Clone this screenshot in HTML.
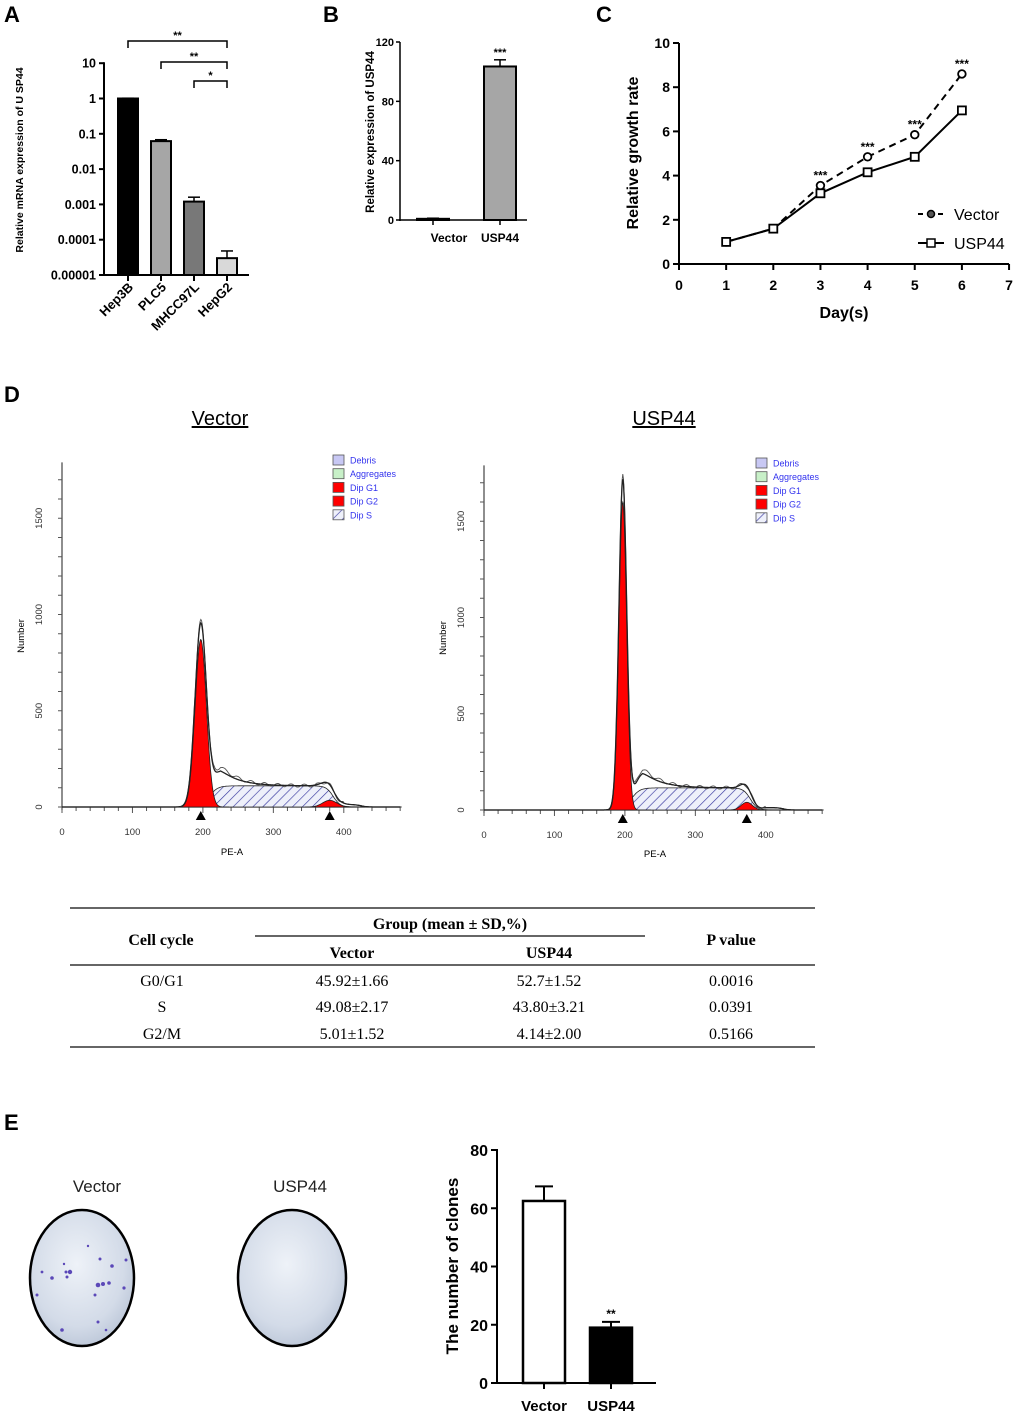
<!DOCTYPE html>
<html><head><meta charset="utf-8">
<style>
html,body{margin:0;padding:0;background:#fff;}
svg{display:block;font-family:"Liberation Sans",sans-serif;}
.ser{font-family:"Liberation Serif",serif;}
</style></head>
<body>
<svg id="fig" width="1020" height="1418" viewBox="0 0 1020 1418" xmlns="http://www.w3.org/2000/svg">
<defs>
<pattern id="hatch" width="7" height="7" patternUnits="userSpaceOnUse" patternTransform="rotate(45)">
<rect width="7" height="7" fill="#eef0fa"/><line x1="0" y1="0" x2="0" y2="7" stroke="#3a3aa0" stroke-width="1.3"/>
</pattern>
<radialGradient id="plateGrad" cx="45%" cy="40%" r="65%">
<stop offset="0" stop-color="#eef2f8"/><stop offset="0.7" stop-color="#d3dbe8"/><stop offset="1" stop-color="#b9c4d6"/>
</radialGradient>
</defs>
<g font-weight="bold" font-size="22" fill="#000">
<text x="4" y="22">A</text>
<text x="323" y="22">B</text>
<text x="596" y="22">C</text>
<text x="4" y="402">D</text>
<text x="4" y="1130">E</text>
</g>
<text transform="translate(23,160) rotate(-90)" text-anchor="middle" font-size="10.5" font-weight="bold">Relative mRNA expression  of U SP44</text>
<text transform="translate(374,132) rotate(-90)" text-anchor="middle" font-size="11.5" font-weight="bold">Relative expression of USP44</text>
<text transform="translate(638,153) rotate(-90)" text-anchor="middle" font-size="16" font-weight="bold">Relative growth rate</text>
<text x="844" y="318" text-anchor="middle" font-size="16" font-weight="bold">Day(s)</text>
<text x="220" y="425" text-anchor="middle" font-size="20" text-decoration="underline">Vector</text>
<text x="664" y="425" text-anchor="middle" font-size="20" text-decoration="underline">USP44</text>
<text transform="translate(24,636) rotate(-90)" text-anchor="middle" font-size="9.5">Number</text>
<text x="232" y="855" text-anchor="middle" font-size="9.5">PE-A</text>
<text transform="translate(446,638) rotate(-90)" text-anchor="middle" font-size="9.5">Number</text>
<text x="655" y="857" text-anchor="middle" font-size="9.5">PE-A</text>
<g class="ser" font-size="16">
<line x1="70" y1="908" x2="815" y2="908" stroke="#333" stroke-width="1.5"/>
<line x1="255" y1="936" x2="645" y2="936" stroke="#333" stroke-width="1.5"/>
<line x1="70" y1="965" x2="815" y2="965" stroke="#333" stroke-width="1.5"/>
<line x1="70" y1="1047" x2="815" y2="1047" stroke="#333" stroke-width="1.5"/>
<g font-weight="bold" text-anchor="middle">
<text x="161" y="945">Cell cycle</text>
<text x="450" y="929">Group (mean ± SD,%)</text>
<text x="352" y="958">Vector</text>
<text x="549" y="958">USP44</text>
<text x="731" y="945">P value</text>
</g>
<g text-anchor="middle">
<text x="162" y="986">G0/G1</text><text x="352" y="986">45.92±1.66</text><text x="549" y="986">52.7±1.52</text><text x="731" y="986">0.0016</text>
<text x="162" y="1012">S</text><text x="352" y="1012">49.08±2.17</text><text x="549" y="1012">43.80±3.21</text><text x="731" y="1012">0.0391</text>
<text x="162" y="1039">G2/M</text><text x="352" y="1039">5.01±1.52</text><text x="549" y="1039">4.14±2.00</text><text x="731" y="1039">0.5166</text>
</g>
</g>
<text x="97" y="1192" text-anchor="middle" font-size="17" fill="#222">Vector</text>
<text x="300" y="1192" text-anchor="middle" font-size="17" fill="#222">USP44</text>
<ellipse cx="82" cy="1278" rx="52" ry="68" fill="url(#plateGrad)" stroke="#000" stroke-width="2.5"/>
<ellipse cx="292" cy="1278" rx="54" ry="68" fill="url(#plateGrad)" stroke="#000" stroke-width="2.5"/>
<g id="colonies" fill="#5b48b8"></g>
<text transform="translate(458,1266) rotate(-90)" text-anchor="middle" font-size="17" font-weight="bold">The number of clones</text>
</svg>
<script>
const NS='http://www.w3.org/2000/svg';
const svg=document.getElementById('fig');
function mk(tag,attrs,parent){const e=document.createElementNS(NS,tag);for(const k in attrs)e.setAttribute(k,attrs[k]);(parent||svg).appendChild(e);return e;}

/* ---------- Panel A data ---------- */
const aCats=['Hep3B','PLC5','MHCC97L','HepG2'];
const aVals=[1,0.062,0.0012,0.00003];
const aErrTop=[1.02,0.068,0.0016,0.000048];
const aTicks=[10,1,0.1,0.01,0.001,0.0001,0.00001];
const aTickLabels=['10','1','0.1','0.01','0.001','0.0001','0.00001'];
/* ---------- Panel B data ---------- */
const bCats=['Vector','USP44'];
const bVals=[0.8,103.5];
const bErrTop=[1.2,108];
const bTicks=[0,40,80,120];
/* ---------- Panel C data ---------- */
const cDays=[1,2,3,4,5,6];
const cVector=[1,1.6,3.55,4.85,5.85,8.6];
const cUSP44=[1,1.6,3.2,4.15,4.85,6.95];
const cXTicks=[0,1,2,3,4,5,6,7];
const cYTicks=[0,2,4,6,8,10];
/* ---------- Panel D data (peak model params) ---------- */
const dVecG1=[197,8,870];
const dVecS=[110];
const dVecG2=[380,10,35];
const dVecTotalPeak=[960];
const dUspG1=[197,5.5,1600];
const dUspS=[115];
const dUspG2=[373,8,40];
const dUspTotalPeak=[1730];
const dXTicks=[0,100,200,300,400];
const dYTicks=[0,500,1000,1500];
/* ---------- Panel E data ---------- */
const eCats=['Vector','USP44'];
const eVals=[62.5,19];
const eErrTop=[67.5,21];
const eTicks=[0,20,40,60,80];

/* ===== Panel A ===== */
const yA=v=>275-(Math.log10(v)+5)*35.3;
const xA=i=>128+i*33;
const aFill=['#000','#a6a6a6','#787878','#d9d9d9'];
let ax=mk('line',{x1:104,y1:yA(10)-1,x2:104,y2:276,stroke:'#000','stroke-width':2});


let axx=mk('line',{x1:103,y1:275,x2:249,y2:275,stroke:'#000','stroke-width':2});


aTicks.forEach((t,i)=>{
  mk('line',{x1:99,y1:yA(t),x2:104,y2:yA(t),stroke:'#000','stroke-width':2});
  const tx=mk('text',{x:96,y:yA(t)+4.5,'text-anchor':'end','font-size':12.5,'font-weight':'bold'});
  tx.textContent=aTickLabels[i];
  
  
});
aCats.forEach((c,i)=>{
  const x=xA(i);
  mk('line',{x1:x,y1:yA(aVals[i]),x2:x,y2:yA(aErrTop[i]),stroke:'#000','stroke-width':1.5});
  mk('line',{x1:x-6,y1:yA(aErrTop[i]),x2:x+6,y2:yA(aErrTop[i]),stroke:'#000','stroke-width':1.5});
  const r=mk('rect',{x:x-10,y:yA(aVals[i]),width:20,height:275-yA(aVals[i]),fill:aFill[i],stroke:'#000','stroke-width':2});
  
  
  mk('line',{x1:x,y1:275,x2:x,y2:281,stroke:'#000','stroke-width':2});
  const t=mk('text',{transform:`translate(${x+6},${288}) rotate(-45)`,'text-anchor':'end','font-size':13,'font-weight':'bold'});
  t.textContent=c;
  
  
});
[[0,41,'**'],[1,62,'**'],[2,81,'*']].forEach(b=>{
  const x1=xA(b[0]),x2=xA(3),y=b[1];
  const p=mk('path',{d:`M${x1},${y+7}V${y}H${x2}V${y+7}`,fill:'none',stroke:'#000','stroke-width':1.5});
  
  
  const s=mk('text',{x:(x1+x2)/2,y:y-2,'text-anchor':'middle','font-size':11,'font-weight':'bold'});
  s.textContent=b[2];
  
  
});

/* ===== Panel B ===== */
const yB=v=>220-v*178/120;
const xB=i=>433+i*67;
let bx=mk('line',{x1:400,y1:42,x2:400,y2:221,stroke:'#000','stroke-width':1.5});


let bxx=mk('line',{x1:399,y1:220,x2:527,y2:220,stroke:'#000','stroke-width':1.5});


bTicks.forEach(t=>{
  mk('line',{x1:396,y1:yB(t),x2:400,y2:yB(t),stroke:'#000','stroke-width':1.5});
  const tx=mk('text',{x:394,y:yB(t)+4,'text-anchor':'end','font-size':11,'font-weight':'bold'});
  tx.textContent=t;
  
  
});
bCats.forEach((c,i)=>{
  const x=xB(i);
  mk('line',{x1:x,y1:yB(bVals[i]),x2:x,y2:yB(bErrTop[i]),stroke:'#000','stroke-width':1.5});
  mk('line',{x1:x-6,y1:yB(bErrTop[i]),x2:x+6,y2:yB(bErrTop[i]),stroke:'#000','stroke-width':1.5});
  const r=mk('rect',{x:x-16,y:yB(bVals[i]),width:32,height:Math.max(1,220-yB(bVals[i])),fill:'#a6a6a6',stroke:'#000','stroke-width':2});
  
  
  mk('line',{x1:x,y1:220,x2:x,y2:225,stroke:'#000','stroke-width':1.5});
  const t=mk('text',{x:x+(i?0:16),y:242,'text-anchor':'middle','font-size':12,'font-weight':'bold'});
  t.textContent=c;
  
  
});
let bs=mk('text',{x:xB(1),y:yB(bErrTop[1])-4,'text-anchor':'middle','font-size':11,'font-weight':'bold'});
bs.textContent='***';



/* ===== Panel C ===== */
const xC=d=>679+d*47.15;
const yC=v=>264-v*22.1;
let cx=mk('line',{x1:679,y1:43,x2:679,y2:265,stroke:'#000','stroke-width':2});


let cxx=mk('line',{x1:678,y1:264,x2:xC(7),y2:264,stroke:'#000','stroke-width':2});


cYTicks.forEach(t=>{
  mk('line',{x1:673,y1:yC(t),x2:679,y2:yC(t),stroke:'#000','stroke-width':2});
  const tx=mk('text',{x:670,y:yC(t)+5,'text-anchor':'end','font-size':14,'font-weight':'bold'});
  tx.textContent=t;
  
  
});
cXTicks.forEach(t=>{
  mk('line',{x1:xC(t),y1:264,x2:xC(t),y2:270,stroke:'#000','stroke-width':2});
  const tx=mk('text',{x:xC(t),y:290,'text-anchor':'middle','font-size':14,'font-weight':'bold'});
  tx.textContent=t;
  
  
});
let vl=mk('polyline',{points:cDays.map((d,i)=>xC(d)+','+yC(cVector[i])).join(' '),fill:'none',stroke:'#000','stroke-width':2,'stroke-dasharray':'7,5'});


let ul=mk('polyline',{points:cDays.map((d,i)=>xC(d)+','+yC(cUSP44[i])).join(' '),fill:'none',stroke:'#000','stroke-width':2});


cDays.forEach((d,i)=>{
  const c=mk('circle',{cx:xC(d),cy:yC(cVector[i]),r:3.8,fill:'#fff',stroke:'#000','stroke-width':1.8});
  
  
  const s=mk('rect',{x:xC(d)-4,y:yC(cUSP44[i])-4,width:8,height:8,fill:'#fff',stroke:'#000','stroke-width':1.8});
  
  
  if(d>=3){
    const st=mk('text',{x:xC(d),y:yC(cVector[i])-6,'text-anchor':'middle','font-size':12,'font-weight':'bold'});
    st.textContent='***';
    
    
  }
});
let lg=mk('g',{});


mk('line',{x1:918,y1:214,x2:944,y2:214,stroke:'#000','stroke-width':2,'stroke-dasharray':'5,5'},lg);
mk('circle',{cx:931,cy:214,r:3.5,fill:'#555',stroke:'#000','stroke-width':1.5},lg);
mk('text',{x:954,y:220,'font-size':16},lg).textContent='Vector';
mk('line',{x1:918,y1:243,x2:944,y2:243,stroke:'#000','stroke-width':2},lg);
mk('rect',{x:927,y:239,width:8,height:8,fill:'#fff',stroke:'#000','stroke-width':1.5},lg);
mk('text',{x:954,y:249,'font-size':16},lg).textContent='USP44';

/* ===== Panel D ===== */
function flow(ox,base,G1,S,G2,totPeak,name,legendX,legendY){
  const xF=v=>ox+v*0.7045;
  const yF=n=>base-n*0.1925;
  const sig=z=>1/(1+Math.exp(-z));
  const g=(v,p)=>p[2]*Math.exp(-((v-p[0])**2)/(2*p[1]*p[1]));
  const sFn=v=>S[0]*sig((v-(G1[0]+12))/6)*sig((G2[0]+5-v)/5);
  const extra=v=>(totPeak[0]-G1[2])*Math.exp(-((v-G1[0])**2)/(2*(G1[1]*1.2)**2))+110*sig((v-215)/4)*Math.exp(-Math.max(0,v-225)/25);
  const top=1790;
  const grp=mk('g',{});
  
  
  mk('line',{x1:ox,y1:yF(top),x2:ox,y2:base+3,stroke:'#444','stroke-width':1.2},grp);
  mk('line',{x1:ox,y1:base,x2:xF(482),y2:base,stroke:'#444','stroke-width':1.2},grp);
  for(let n=0;n<=top;n+=100){mk('line',{x1:ox-4,y1:yF(n),x2:ox,y2:yF(n),stroke:'#555','stroke-width':1},grp);}
  for(let v=0;v<=480;v+=20){mk('line',{x1:xF(v),y1:base,x2:xF(v),y2:base+(v%100?4:6),stroke:'#555','stroke-width':1},grp);}
  dYTicks.forEach(t=>{
    const tx=mk('text',{transform:`translate(${ox-20},${yF(t)}) rotate(-90)`,'text-anchor':'middle','font-size':9.5,fill:'#333'},grp);
    tx.textContent=t;
    
    
  });
  dXTicks.forEach(t=>{
    const tx=mk('text',{x:xF(t),y:base+28,'text-anchor':'middle','font-size':9.5,fill:'#333'},grp);
    tx.textContent=t;
    
    
  });
  let d='M'+xF(150)+','+base;
  for(let v=150;v<=430;v++) d+='L'+xF(v).toFixed(1)+','+yF(sFn(v)).toFixed(1);
  d+='L'+xF(430)+','+base+'Z';
  const sp=mk('path',{d,fill:'url(#hatch)',stroke:'#222','stroke-width':0.8},grp);
  
  
  d='M'+xF(G1[0]-40)+','+base;
  for(let v=G1[0]-40;v<=G1[0]+40;v+=0.5) d+='L'+xF(v).toFixed(1)+','+yF(g(v,G1)).toFixed(1);
  d+='Z';
  const g1=mk('path',{d,fill:'#ff0000',stroke:'#222','stroke-width':0.8},grp);
  
  
  d='M'+xF(G2[0]-35)+','+base;
  for(let v=G2[0]-35;v<=G2[0]+35;v++) d+='L'+xF(v).toFixed(1)+','+yF(g(v,G2)).toFixed(1);
  d+='Z';
  const g2=mk('path',{d,fill:'#ff0000',stroke:'#222','stroke-width':0.8},grp);
  
  
  [0,1].forEach(k=>{
    let dd='';
    for(let v=0;v<=480;v+=1){
      let n=g(v,G1)+sFn(v)+g(v,G2)+extra(v)*(k?0.8:1)+ (k?0:((v>215&&v<400)?8*Math.sin(v/3):0));
      n+=12*sig((v-395)/3)*sig((425-v)/4);
      dd+=(v?'L':'M')+xF(v).toFixed(1)+','+yF(Math.max(0,n)).toFixed(1);
    }
    const tl=mk('path',{d:dd,fill:'none',stroke:k?'#222':'#555','stroke-width':k?1.3:0.9},grp);
    
    
  });
  [G1[0],G2[0]].forEach(m=>{
    const tri=mk('path',{d:`M${xF(m)-5},${base+13}L${xF(m)+5},${base+13}L${xF(m)},${base+4}Z`,fill:'#000'},grp);
    
    
  });
  const items=[['Debris','#c8c8f4'],['Aggregates','#c8f0c8'],['Dip G1','#ff0000'],['Dip G2','#ff0000'],['Dip S','url(#hatch)']];
  items.forEach((it,i)=>{
    const y=legendY+i*13.7;
    const r=mk('rect',{x:legendX,y:y,width:11,height:10,fill:it[1],stroke:'#555','stroke-width':0.8},grp);
    
    
    const t=mk('text',{x:legendX+17,y:y+8.5,'font-size':9,fill:'#3333ee'},grp);
    t.textContent=it[0];
    
    
  });
}
flow(62,807,dVecG1,dVecS,dVecG2,dVecTotalPeak,'flow-vector',333,455);
flow(484,810,dUspG1,dUspS,dUspG2,dUspTotalPeak,'flow-usp44',756,458);

/* ===== Panel E plates (colony dots) ===== */
const col=document.getElementById('colonies');
[[70,1272,2.2],[52,1278,1.8],[100,1259,1.5],[112,1266,1.8],[98,1285,2.3],[103,1284,2],[109,1283,1.8],[124,1288,1.6],[126,1260,1.5],[66,1272,1.5],[67,1277,1.5],[37,1295,1.5],[95,1295,1.5],[62,1330,1.8],[98,1322,1.5],[106,1330,1.3],[42,1272,1.4],[64,1264,1.2],[88,1246,1.2]].forEach(p=>{
  mk('circle',{cx:p[0],cy:p[1],r:p[2]},col);
});
/* ===== Panel E bar chart ===== */
const yE=v=>1383-v*233/80;
const xE=i=>544+i*67;
let ex=mk('line',{x1:497,y1:1149,x2:497,y2:1384,stroke:'#000','stroke-width':2});


let exx=mk('line',{x1:496,y1:1383,x2:656,y2:1383,stroke:'#000','stroke-width':2});


eTicks.forEach(t=>{
  mk('line',{x1:491,y1:yE(t),x2:497,y2:yE(t),stroke:'#000','stroke-width':2});
  const tx=mk('text',{x:488,y:yE(t)+6,'text-anchor':'end','font-size':16,'font-weight':'bold'});
  tx.textContent=t;
  
  
});
eCats.forEach((c,i)=>{
  const x=xE(i);
  mk('line',{x1:x,y1:yE(eVals[i]),x2:x,y2:yE(eErrTop[i]),stroke:'#000','stroke-width':2});
  mk('line',{x1:x-9,y1:yE(eErrTop[i]),x2:x+9,y2:yE(eErrTop[i]),stroke:'#000','stroke-width':2});
  const r=mk('rect',{x:x-21,y:yE(eVals[i]),width:42,height:1383-yE(eVals[i]),fill:i?'#000':'#fff',stroke:'#000','stroke-width':2.5});
  
  
  mk('line',{x1:x,y1:1383,x2:x,y2:1389,stroke:'#000','stroke-width':2});
  const t=mk('text',{x:x,y:1411,'text-anchor':'middle','font-size':15,'font-weight':'bold'});
  t.textContent=c;
  
  
});
let es=mk('text',{x:xE(1),y:yE(eErrTop[1])-4,'text-anchor':'middle','font-size':12,'font-weight':'bold'});
es.textContent='**';


</script>
</body></html>
